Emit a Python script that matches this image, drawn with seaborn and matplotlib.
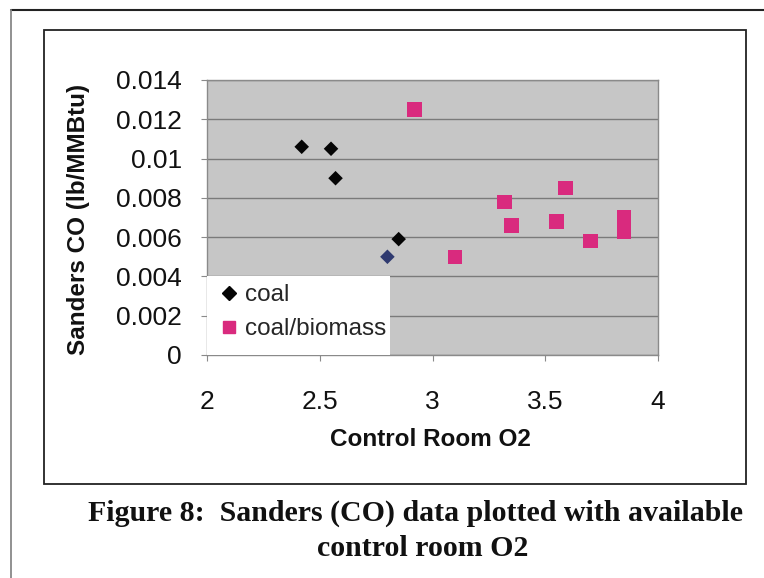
import matplotlib
matplotlib.use("Agg")
import matplotlib.pyplot as plt
from matplotlib.lines import Line2D
from matplotlib.patches import Rectangle
import seaborn as sns
import pandas as pd

# ---- data ----
coal_o2 = [2.42, 2.55, 2.57, 2.85, 2.80]
coal_co = [0.0106, 0.0105, 0.0090, 0.0059, 0.0050]
coal_shade = ["black", "black", "black", "black", "navy"]

biomass_o2 = [2.92, 3.32, 3.59, 3.35, 3.55, 3.85, 3.85, 3.70, 3.10]
biomass_co = [0.0125, 0.0078, 0.0085, 0.0066, 0.0068, 0.0070, 0.0063, 0.0058, 0.0050]

x_ticks = [2, 2.5, 3, 3.5, 4]
x_tick_labels = ["2", "2.5", "3", "3.5", "4"]
y_ticks = [0, 0.002, 0.004, 0.006, 0.008, 0.01, 0.012, 0.014]
y_tick_labels = ["0", "0.002", "0.004", "0.006", "0.008", "0.01", "0.012", "0.014"]

series_names = ["coal", "coal/biomass"]
x_title = "Control Room O2"
y_title = "Sanders CO (lb/MMBtu)"
caption_1 = "Figure 8:  Sanders (CO) data plotted with available"
caption_2 = "control room O2"

df_coal = pd.DataFrame({"o2": coal_o2, "co": coal_co, "shade": coal_shade})
df_bio = pd.DataFrame({"o2": biomass_o2, "co": biomass_co})

sns.set_theme(style="white")
plt.rcParams["font.family"] = ["Liberation Sans", "DejaVu Sans"]

W, H = 764, 578
fig = plt.figure(figsize=(W / 100, H / 100), dpi=100)
fig.patch.set_facecolor("white")

def fx(px):
    return px / W

def fy(py):
    return 1 - py / H

ax_l, ax_r, ax_t, ax_b = 207, 658, 80, 355
ax = fig.add_axes([fx(ax_l), fy(ax_b), (ax_r - ax_l) / W, (ax_b - ax_t) / H])
ax.set_facecolor("#c6c6c6")

pink = "#d92a7e"
sns.scatterplot(data=df_coal, x="o2", y="co", hue="shade",
                palette={"black": "#050505", "navy": "#2f3a70"},
                marker="D", s=55, edgecolor="none", legend=False, ax=ax, zorder=4)
sns.scatterplot(data=df_bio, x="o2", y="co", color=pink, marker="s",
                s=110, edgecolor="none", legend=False, ax=ax, zorder=4)

ax.set_xlim(2, 4)
ax.set_ylim(0, 0.014)
ax.set_xticks(x_ticks)
ax.set_xticklabels(x_tick_labels)
ax.set_yticks(y_ticks)
ax.set_yticklabels(y_tick_labels)
ax.set_xlabel("")
ax.set_ylabel("")
ax.yaxis.grid(True, color="#7a7a7a", linewidth=1.0)
ax.xaxis.grid(False)
ax.set_axisbelow(True)
for sp in ax.spines.values():
    sp.set_visible(True)
    sp.set_color("#8a8a8a")
    sp.set_linewidth(1.0)
ax.tick_params(axis="y", which="both", left=True, length=4, width=0.8,
               color="#8a8a8a", pad=14, labelsize=19, labelcolor="#111111")
ax.tick_params(axis="x", which="both", bottom=True, length=4, width=0.8,
               color="#8a8a8a", pad=21, labelsize=19, labelcolor="#111111")

# legend area (white box at lower left of plot)
leg_w = (390 - ax_l) / (ax_r - ax_l)
leg_h = (ax_b - 276) / (ax_b - ax_t)
ax.add_patch(Rectangle((0, 0), leg_w, leg_h, transform=ax.transAxes,
                       facecolor="white", edgecolor="none", zorder=5))
handles = [
    Line2D([], [], marker="D", color="#050505", linestyle="none", markersize=7),
    Line2D([], [], marker="s", color=pink, linestyle="none", markersize=9),
]
leg = ax.legend(handles, series_names, loc="lower left",
                bbox_to_anchor=(0.0, 0.0), frameon=False, fontsize=17.5,
                handlelength=0.6, handletextpad=0.35, labelspacing=0.5,
                borderaxespad=0.3, borderpad=0.3)
leg.set_zorder(6)

# axis titles
fig.text(fx(430), fy(440), x_title, ha="center", va="center",
         fontsize=17.5, fontweight="bold", color="#111111")
fig.text(fx(79), fy(219), y_title, ha="center", va="center", rotation=90,
         fontsize=17.5, fontweight="bold", color="#111111")

# frames
fig.add_artist(Rectangle((fx(44), fy(484)), (746 - 44) / W, (484 - 30) / H,
                         transform=fig.transFigure, facecolor="none",
                         edgecolor="#222222", linewidth=1.3))
fig.add_artist(Line2D([fx(11), fx(764)], [fy(10), fy(10)],
                      transform=fig.transFigure, color="#222222", linewidth=1.5))
fig.add_artist(Line2D([fx(11), fx(11)], [fy(10), fy(578)],
                      transform=fig.transFigure, color="#888888", linewidth=1.3))

# caption
fig.text(fx(415), fy(513), caption_1, ha="center", va="center",
         fontsize=21.5, fontweight="bold", family=["Liberation Serif", "DejaVu Serif"],
         color="#111111")
fig.text(fx(423), fy(548), caption_2, ha="center", va="center",
         fontsize=21.5, fontweight="bold", family=["Liberation Serif", "DejaVu Serif"],
         color="#111111")

fig.savefig("out.png", dpi=100, facecolor="white")
